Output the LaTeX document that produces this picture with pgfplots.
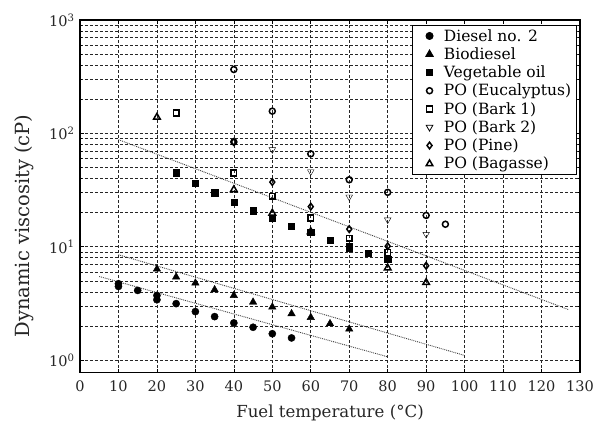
\documentclass[border=0pt]{standalone}
\usepackage{fontspec}
\setmainfont{DejaVu Serif}
\usepackage{pgfplots}
\pgfplotsset{compat=1.18}
\begin{document}
\begin{tikzpicture}
\begin{axis}[
  scale only axis, width=500bp, height=352.7bp,
  at={(0,0)}, anchor=south west,
  xmin=0, xmax=130, ymode=log, ymin=0.775, ymax=1000,
  xtick={0,10,...,130},
  ytick={1,10,100,1000},
  yticklabels={10\textsuperscript{0},10\textsuperscript{1},10\textsuperscript{2},10\textsuperscript{3}},
  minor x tick num=0,
  /pgf/number format/assume math mode=true,
  tick label style={font=\fontsize{14.5bp}{16bp}\selectfont, text=black!85},
  xticklabel style={yshift=-5bp},
  yticklabel style={xshift=-2bp},
  tick align=inside, major tick length=4bp, minor tick length=2.5bp,
  every tick/.style={black, line width=0.6bp},
  axis line style={line width=1.1bp, black},
  grid=both,
  major grid style={black!85, line width=0.65bp, dash pattern=on 3bp off 2bp},
  minor grid style={black!85, line width=0.65bp, dash pattern=on 3bp off 2bp},
  xlabel={Fuel temperature (°C)},
  ylabel={Dynamic viscosity (cP)},
  xlabel style={font=\fontsize{16.6bp}{18bp}\selectfont, text=black!85,
    at={(axis description cs:0.5,-0.128)}, anchor=base},
  ylabel style={font=\fontsize{19.5bp}{21bp}\selectfont, text=black!85,
    at={(axis description cs:-0.112,0.416)}, anchor=center},
  legend style={at={(rel axis cs:0.993,0.986)}, anchor=north east,
    font=\fontsize{15.5bp}{17bp}\selectfont, draw=black, line width=0.8bp,
    inner xsep=3bp, inner ysep=2bp, row sep=1bp, fill=white},
  legend cell align=left,
  legend image code/.code={\path (0bp,0bp) (26bp,0bp); \draw[#1] plot coordinates {(14bp,0bp)};},
  filled/.style={only marks, black, mark options={solid, fill=black}},
  open/.style={only marks, black, mark options={solid, fill=white, line width=1.5bp}},
]
% fitted lines
\addplot[forget plot, densely dotted, black!75, line width=0.9bp] coordinates {(5,5.47) (80,1.07)};
\addplot[forget plot, densely dotted, black!75, line width=0.9bp] coordinates {(10,8.5) (100,1.1)};
\addplot[forget plot, densely dotted, black!75, line width=0.9bp] coordinates {(10,88) (127,2.79)};

% Diesel no. 2
\addplot[filled, mark=*, mark size=3.6bp] coordinates {
 (10,4.47) (10,4.72) (15,4.12) (20,3.72) (20,3.41) (25,3.15) (30,2.68)
 (35,2.42) (40,2.13) (45,1.95) (50,1.71) (55,1.57)};
\addlegendentry{Diesel no. 2}
% Biodiesel
\addplot[filled, mark=triangle*, mark size=4.3bp] coordinates {
 (20,6.36) (25,5.41) (30,4.79) (35,4.18) (40,3.72) (45,3.25) (50,2.94)
 (55,2.57) (60,2.38) (65,2.10) (70,1.88)};
\addlegendentry{Biodiesel}
% Vegetable oil
\addplot[filled, mark=square*, mark size=3.1bp] coordinates {
 (25,45) (30,36.5) (35,30) (40,24.7) (45,20.8) (50,17.9) (55,15.3)
 (60,13.4) (65,11.5) (70,10.1) (70,9.7) (75,8.8) (80,7.8)};
\addlegendentry{Vegetable oil}
% PO (Eucalyptus)
\addplot[open, mark=o, mark size=3bp] coordinates {
 (40,366) (40,84) (50,157) (60,66) (70,39) (80,30.2) (90,18.9) (95,15.8)};
\addlegendentry{PO (Eucalyptus)}
% PO (Bark 1)
\addplot[open, mark=square, mark size=2.9bp] coordinates {
 (25,151) (40,44.7) (50,27.9) (60,17.9) (70,11.9) (80,8.9)};
\addlegendentry{PO (Bark 1)}
% PO (Bark 2)
\addplot[open, mark=triangle, mark size=3.8bp, mark options={rotate=180}] coordinates {
 (50,72) (60,46) (70,27.5) (80,17.3) (90,12.9)};
\addlegendentry{PO (Bark 2)}
% PO (Pine)
\addplot[open, mark=diamond, mark size=3.3bp] coordinates {
 (40,84) (50,37.2) (60,22.6) (70,14.3) (80,10.1) (90,6.8)};
\addlegendentry{PO (Pine)}
% PO (Bagasse)
\addplot[open, mark=triangle, mark size=3.8bp] coordinates {
 (20,139) (40,31.9) (50,19.8) (60,13.6) (80,6.5) (90,4.84)};
\addlegendentry{PO (Bagasse)}
\end{axis}
\pgfresetboundingbox
\path[use as bounding box] (-80bp,-52.3bp) rectangle (526bp,372.7bp);
\end{tikzpicture}
\end{document}
